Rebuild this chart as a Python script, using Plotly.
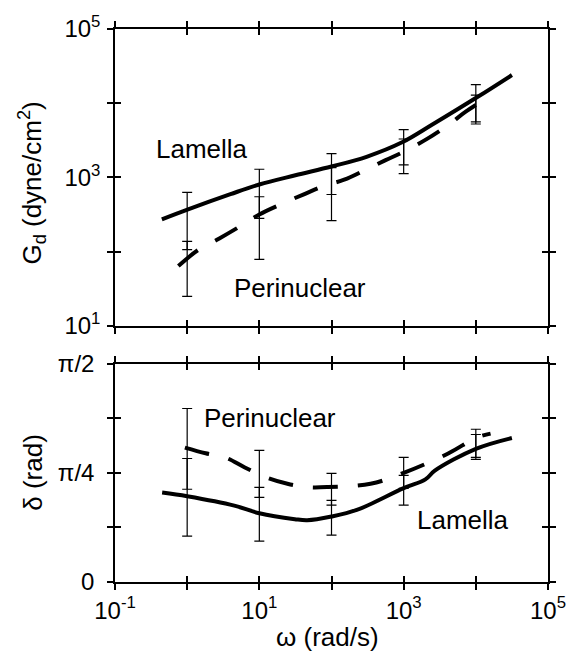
import numpy as np
import plotly.graph_objects as go

# ---------------- data ----------------
# Top panel: G_d (dyne/cm^2) vs omega (rad/s)
omega_lam_top = [0.446, 1.03, 3.98, 10, 31.6, 100, 306, 968, 2466, 10640, 31620]
G_lam = [273, 372, 596, 805, 1072, 1406, 1900, 3000, 5129, 12220, 23990]
omega_per_top = [0.755, 1.41, 2.79, 5.71, 10, 21.1, 40.6, 80.4, 150, 306, 553, 1064, 2109, 4188, 7328, 15960]
G_per = [64, 105, 151, 227, 318, 447, 589, 776, 933, 1288, 1698, 2291, 3311, 5129, 7762, 12590]

err_omega = [1, 10, 100, 1000, 10000]
G_lam_hi = [631, 1290, 2100, 4400, 17800]
G_lam_lo = [107, 282, 590, 1480, 5600]
G_per_hi = [138, 550, 1360, 3300, 12900]
G_per_lo = [25, 79, 263, 1130, 5250]

# Bottom panel: delta as a fraction of pi/2
omega_lam_bot = [0.45, 1, 4.5, 10, 31, 46, 100, 224, 1000, 2000, 2700, 10000, 31600]
delta_lam_frac = [0.41, 0.393, 0.35, 0.315, 0.288, 0.283, 0.30, 0.33, 0.43, 0.47, 0.51, 0.61, 0.66]
omega_per_bot = [0.93, 1.8, 3.4, 6.3, 12.3, 24.5, 46, 89, 347, 1000, 4200, 10000, 16000]
delta_per_frac = [0.616, 0.59, 0.57, 0.525, 0.48, 0.45, 0.435, 0.435, 0.45, 0.50, 0.59, 0.66, 0.68]

d_lam_hi = [0.566, 0.434, 0.374, 0.489, 0.676]
d_lam_lo = [0.21, 0.187, 0.215, 0.352, 0.562]
d_per_hi = [0.795, 0.603, 0.498, 0.571, 0.70]
d_per_lo = [0.425, 0.388, 0.352, 0.429, 0.571]

x_ticks = [0.1, 1, 10, 100, 1000, 10000, 100000]
x_ticktext = ["10<sup>-1</sup>", "", "10<sup>1</sup>", "", "10<sup>3</sup>", "", "10<sup>5</sup>"]
gy_ticks = [10, 100, 1000, 10000, 100000]
gy_ticktext = ["10<sup>1</sup>", "", "10<sup>3</sup>", "", "10<sup>5</sup>"]
dy_ticks = [0, np.pi / 8, np.pi / 4, 3 * np.pi / 8, np.pi / 2]
dy_ticktext = ["0", "", "π/4", "", "π/2"]

HALF_PI = np.pi / 2
FONT = "Liberation Sans, Arial, sans-serif"
FS = 24
FS_TXT = 26

fig = go.Figure()

def errbars(xs, hi, lo, xa, ya, log=False):
    hi = np.array(hi, float)
    lo = np.array(lo, float)
    c = np.sqrt(hi * lo) if log else (hi + lo) / 2
    fig.add_trace(go.Scatter(
        x=xs, y=c, mode="markers", xaxis=xa, yaxis=ya,
        marker=dict(size=1, color="rgba(0,0,0,0)"),
        error_y=dict(type="data", symmetric=False, array=hi - c, arrayminus=c - lo,
                     color="black", thickness=1.2, width=5),
        showlegend=False, hoverinfo="skip"))

line_solid = dict(color="black", width=4)
line_dash = dict(color="black", width=4, dash="25px,20px")

# top panel
fig.add_trace(go.Scatter(x=omega_lam_top, y=G_lam, mode="lines", line=line_solid,
                         line_shape="spline", xaxis="x", yaxis="y", showlegend=False))
fig.add_trace(go.Scatter(x=omega_per_top, y=G_per, mode="lines", line=line_dash,
                         line_shape="spline", xaxis="x", yaxis="y", showlegend=False))
errbars(err_omega, G_lam_hi, G_lam_lo, "x", "y", log=True)
errbars(err_omega, G_per_hi, G_per_lo, "x", "y", log=True)

# bottom panel
fig.add_trace(go.Scatter(x=omega_lam_bot, y=np.array(delta_lam_frac) * HALF_PI, mode="lines",
                         line=line_solid, line_shape="spline", xaxis="x2", yaxis="y2", showlegend=False))
fig.add_trace(go.Scatter(x=omega_per_bot, y=np.array(delta_per_frac) * HALF_PI, mode="lines",
                         line=line_dash, line_shape="spline", xaxis="x2", yaxis="y2", showlegend=False))
errbars(err_omega, np.array(d_lam_hi) * HALF_PI, np.array(d_lam_lo) * HALF_PI, "x2", "y2")
errbars(err_omega, np.array(d_per_hi) * HALF_PI, np.array(d_per_lo) * HALF_PI, "x2", "y2")

# empty traces for overlay axes (inside half of crossing ticks)
for xa, ya in [("x3", "y3"), ("x4", "y4")]:
    fig.add_trace(go.Scatter(x=[], y=[], xaxis=xa, yaxis=ya, showlegend=False, hoverinfo="skip"))

TOP_DOM = [0.463, 1.0]
BOT_DOM = [0.0, 0.3946]

base = dict(showline=True, linecolor="black", linewidth=1.5, mirror="allticks",
            ticklen=6, tickwidth=1.5, tickcolor="black", showgrid=False, zeroline=False,
            tickfont=dict(family=FONT, size=FS, color="black"), tickmode="array")

fig.update_layout(
    width=578, height=651,
    margin=dict(l=115, r=19, t=27, b=69),
    paper_bgcolor="white", plot_bgcolor="white",
    xaxis=dict(base, type="log", range=[-1, 5], domain=[0, 1], anchor="y", ticks="outside",
               tickvals=x_ticks, showticklabels=False),
    yaxis=dict(base, type="log", range=[1, 5], domain=TOP_DOM, anchor="x", ticks="outside",
               tickvals=gy_ticks, ticktext=gy_ticktext, ticklabelstandoff=2),
    xaxis2=dict(base, type="log", range=[-1, 5], domain=[0, 1], anchor="y2", ticks="outside",
                tickvals=x_ticks, ticktext=x_ticktext),
    yaxis2=dict(base, range=[0, HALF_PI], domain=BOT_DOM, anchor="x2", ticks="outside",
                tickvals=dy_ticks, ticktext=dy_ticktext, ticklabelstandoff=8),
    xaxis3=dict(base, type="log", range=[-1, 5], overlaying="x", anchor="y", ticks="inside",
                tickvals=x_ticks, showticklabels=False),
    yaxis3=dict(base, type="log", range=[1, 5], overlaying="y", anchor="x", ticks="inside",
                tickvals=gy_ticks, showticklabels=False),
    xaxis4=dict(base, type="log", range=[-1, 5], overlaying="x2", anchor="y2", ticks="inside",
                tickvals=x_ticks, showticklabels=False),
    yaxis4=dict(base, range=[0, HALF_PI], overlaying="y2", anchor="x2", ticks="inside",
                tickvals=dy_ticks, showticklabels=False),
)

tfont = dict(family=FONT, size=FS_TXT, color="black")
ann = [
    dict(text="G<sub>d</sub> (dyne/cm<sup>2</sup>)", xref="paper", yref="paper",
         x=-0.191, y=0.721, textangle=-90, showarrow=False, font=tfont,
         xanchor="center", yanchor="middle"),
    dict(text="δ (rad)", xref="paper", yref="paper", x=-0.191, y=0.198, textangle=-90,
         showarrow=False, font=tfont, xanchor="center", yanchor="middle"),
    dict(text="ω (rad/s)", xref="paper", yref="paper", x=0.491, y=-0.099, showarrow=False,
         font=tfont, xanchor="center", yanchor="middle"),
    dict(text="Lamella", xref="x", yref="y", x=0.2, y=3.39, showarrow=False, font=tfont),
    dict(text="Perinuclear", xref="x", yref="y", x=1.57, y=1.51, showarrow=False, font=tfont),
    dict(text="Perinuclear", xref="x2", yref="y2", x=1.15, y=0.753 * HALF_PI, showarrow=False, font=tfont),
    dict(text="Lamella", xref="x2", yref="y2", x=3.82, y=0.283 * HALF_PI, showarrow=False, font=tfont),
]
fig.update_layout(annotations=ann)

fig.write_html("out.html")
